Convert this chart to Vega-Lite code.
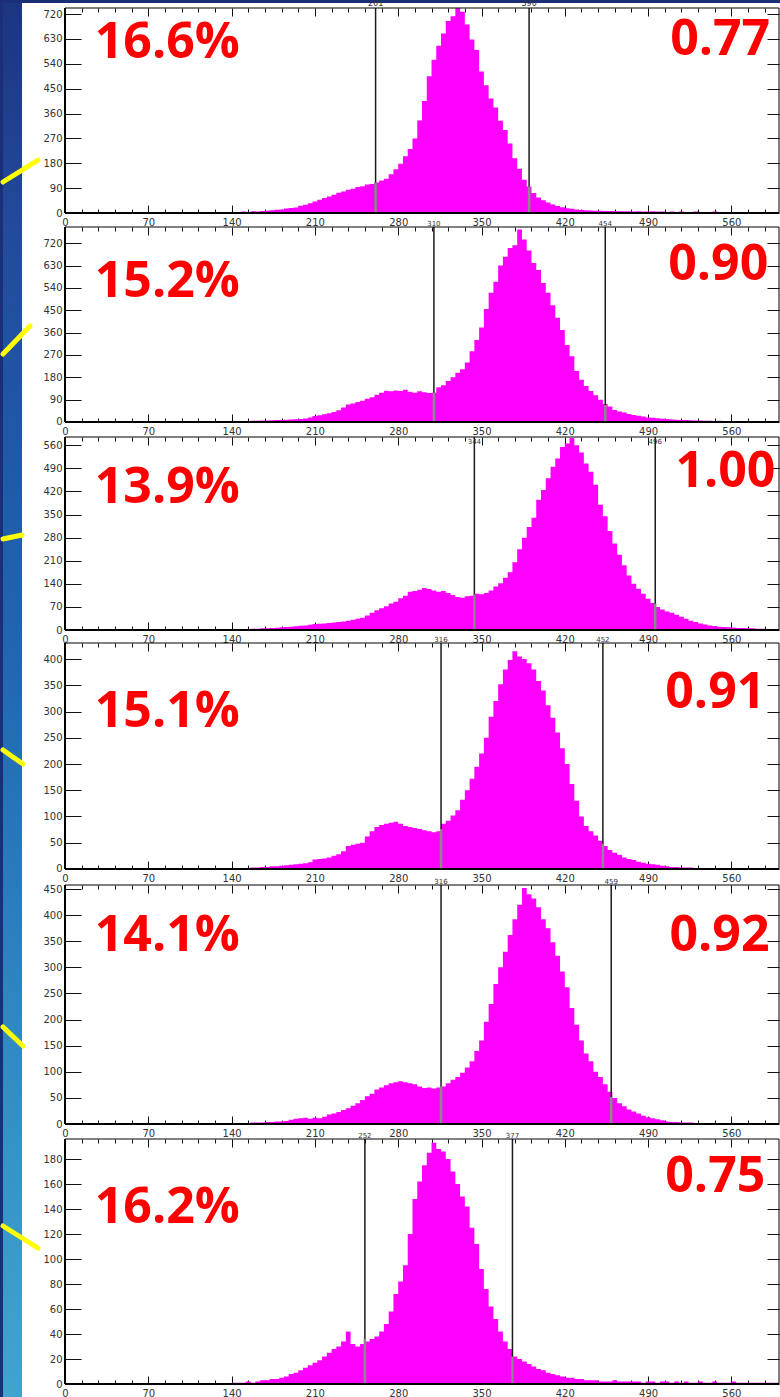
{
"$schema": "https://vega.github.io/schema/vega-lite/v6.json",
"padding": 0,
"background": "#1a2f78",
"spacing": 0,
"bounds": "flush",
"config": {
  "view": {"stroke": null, "fill": "#ffffff"},
  "axis": {"domain": false, "grid": false, "labelFont": "DejaVu Sans", "labelFontSize": 10, "labelColor": "#333333", "tickColor": "#111111", "tickWidth": 1, "labelOverlap": false, "labelFlush": false, "zindex": 1}
},
"datasets": {
"h1": [{"x":100,"c":1},{"x":104,"c":0},{"x":108,"c":1},{"x":112,"c":2},{"x":116,"c":1},{"x":120,"c":2},{"x":124,"c":2},{"x":128,"c":3},{"x":132,"c":2},{"x":136,"c":3},{"x":140,"c":4},{"x":144,"c":3},{"x":148,"c":5},{"x":152,"c":4},{"x":156,"c":6},{"x":160,"c":5},{"x":164,"c":7},{"x":168,"c":8},{"x":172,"c":10},{"x":176,"c":12},{"x":180,"c":13},{"x":184,"c":16},{"x":188,"c":18},{"x":192,"c":20},{"x":196,"c":26},{"x":200,"c":30},{"x":204,"c":35},{"x":208,"c":42},{"x":212,"c":48},{"x":216,"c":54},{"x":220,"c":60},{"x":224,"c":66},{"x":228,"c":73},{"x":232,"c":78},{"x":236,"c":84},{"x":240,"c":88},{"x":244,"c":94},{"x":248,"c":97},{"x":252,"c":103},{"x":256,"c":105},{"x":260,"c":110},{"x":264,"c":118},{"x":268,"c":124},{"x":272,"c":140},{"x":276,"c":158},{"x":280,"c":178},{"x":284,"c":205},{"x":288,"c":232},{"x":292,"c":270},{"x":296,"c":335},{"x":300,"c":405},{"x":304,"c":495},{"x":308,"c":555},{"x":312,"c":605},{"x":316,"c":650},{"x":320,"c":695},{"x":324,"c":712},{"x":328,"c":742},{"x":332,"c":728},{"x":336,"c":682},{"x":340,"c":628},{"x":344,"c":590},{"x":348,"c":512},{"x":352,"c":462},{"x":356,"c":414},{"x":360,"c":382},{"x":364,"c":334},{"x":368,"c":300},{"x":372,"c":252},{"x":376,"c":198},{"x":380,"c":160},{"x":384,"c":120},{"x":388,"c":96},{"x":392,"c":72},{"x":396,"c":56},{"x":400,"c":46},{"x":404,"c":38},{"x":408,"c":31},{"x":412,"c":25},{"x":416,"c":21},{"x":420,"c":17},{"x":424,"c":15},{"x":428,"c":13},{"x":432,"c":11},{"x":436,"c":10},{"x":440,"c":9},{"x":444,"c":8},{"x":448,"c":8},{"x":452,"c":7},{"x":456,"c":7},{"x":460,"c":7},{"x":464,"c":6},{"x":468,"c":6},{"x":472,"c":6},{"x":476,"c":5},{"x":480,"c":6},{"x":484,"c":5},{"x":488,"c":5},{"x":492,"c":6},{"x":496,"c":5},{"x":500,"c":5},{"x":504,"c":4},{"x":508,"c":5},{"x":512,"c":4},{"x":516,"c":5},{"x":520,"c":4},{"x":524,"c":4},{"x":528,"c":5},{"x":532,"c":4},{"x":536,"c":4},{"x":540,"c":4},{"x":544,"c":5},{"x":548,"c":4},{"x":552,"c":3},{"x":556,"c":4},{"x":560,"c":3},{"x":564,"c":4},{"x":568,"c":3},{"x":572,"c":3},{"x":576,"c":4},{"x":580,"c":3},{"x":584,"c":3},{"x":588,"c":3},{"x":592,"c":2},{"x":596,"c":2},{"x":600,"c":0}],
"h2": [{"x":100,"c":1},{"x":104,"c":1},{"x":108,"c":2},{"x":112,"c":1},{"x":116,"c":2},{"x":120,"c":2},{"x":124,"c":3},{"x":128,"c":2},{"x":132,"c":3},{"x":136,"c":3},{"x":140,"c":4},{"x":144,"c":3},{"x":148,"c":4},{"x":152,"c":4},{"x":156,"c":5},{"x":160,"c":5},{"x":164,"c":6},{"x":168,"c":6},{"x":172,"c":7},{"x":176,"c":8},{"x":180,"c":8},{"x":184,"c":9},{"x":188,"c":10},{"x":192,"c":11},{"x":196,"c":12},{"x":200,"c":14},{"x":204,"c":18},{"x":208,"c":24},{"x":212,"c":27},{"x":216,"c":31},{"x":220,"c":35},{"x":224,"c":40},{"x":228,"c":47},{"x":232,"c":58},{"x":236,"c":70},{"x":240,"c":74},{"x":244,"c":80},{"x":248,"c":86},{"x":252,"c":94},{"x":256,"c":100},{"x":260,"c":110},{"x":264,"c":118},{"x":268,"c":126},{"x":272,"c":124},{"x":276,"c":127},{"x":280,"c":125},{"x":284,"c":130},{"x":288,"c":122},{"x":292,"c":118},{"x":296,"c":124},{"x":300,"c":120},{"x":304,"c":117},{"x":308,"c":118},{"x":312,"c":140},{"x":316,"c":148},{"x":320,"c":165},{"x":324,"c":180},{"x":328,"c":198},{"x":332,"c":212},{"x":336,"c":240},{"x":340,"c":285},{"x":344,"c":330},{"x":348,"c":380},{"x":352,"c":455},{"x":356,"c":520},{"x":360,"c":565},{"x":364,"c":630},{"x":368,"c":665},{"x":372,"c":700},{"x":376,"c":712},{"x":380,"c":775},{"x":384,"c":735},{"x":388,"c":690},{"x":392,"c":640},{"x":396,"c":612},{"x":400,"c":560},{"x":404,"c":520},{"x":408,"c":470},{"x":412,"c":420},{"x":416,"c":370},{"x":420,"c":310},{"x":424,"c":265},{"x":428,"c":205},{"x":432,"c":170},{"x":436,"c":145},{"x":440,"c":125},{"x":444,"c":108},{"x":448,"c":90},{"x":452,"c":72},{"x":456,"c":62},{"x":460,"c":48},{"x":464,"c":42},{"x":468,"c":38},{"x":472,"c":32},{"x":476,"c":28},{"x":480,"c":25},{"x":484,"c":22},{"x":488,"c":18},{"x":492,"c":17},{"x":496,"c":15},{"x":500,"c":13},{"x":504,"c":12},{"x":508,"c":10},{"x":512,"c":9},{"x":516,"c":8},{"x":520,"c":8},{"x":524,"c":7},{"x":528,"c":6},{"x":532,"c":6},{"x":536,"c":5},{"x":540,"c":5},{"x":544,"c":4},{"x":548,"c":5},{"x":552,"c":4},{"x":556,"c":4},{"x":560,"c":4},{"x":564,"c":3},{"x":568,"c":4},{"x":572,"c":3},{"x":576,"c":3},{"x":580,"c":3},{"x":584,"c":3},{"x":588,"c":2},{"x":592,"c":3},{"x":596,"c":2},{"x":600,"c":0}],
"h3": [{"x":100,"c":1},{"x":104,"c":0},{"x":108,"c":1},{"x":112,"c":1},{"x":116,"c":1},{"x":120,"c":2},{"x":124,"c":1},{"x":128,"c":2},{"x":132,"c":2},{"x":136,"c":2},{"x":140,"c":2},{"x":144,"c":3},{"x":148,"c":3},{"x":152,"c":3},{"x":156,"c":4},{"x":160,"c":4},{"x":164,"c":5},{"x":168,"c":5},{"x":172,"c":6},{"x":176,"c":7},{"x":180,"c":8},{"x":184,"c":9},{"x":188,"c":10},{"x":192,"c":11},{"x":196,"c":13},{"x":200,"c":14},{"x":204,"c":16},{"x":208,"c":18},{"x":212,"c":19},{"x":216,"c":20},{"x":220,"c":21},{"x":224,"c":23},{"x":228,"c":24},{"x":232,"c":26},{"x":236,"c":28},{"x":240,"c":31},{"x":244,"c":34},{"x":248,"c":37},{"x":252,"c":44},{"x":256,"c":52},{"x":260,"c":60},{"x":264,"c":66},{"x":268,"c":72},{"x":272,"c":80},{"x":276,"c":86},{"x":280,"c":96},{"x":284,"c":104},{"x":288,"c":116},{"x":292,"c":118},{"x":296,"c":122},{"x":300,"c":127},{"x":304,"c":124},{"x":308,"c":120},{"x":312,"c":116},{"x":316,"c":118},{"x":320,"c":112},{"x":324,"c":106},{"x":328,"c":100},{"x":332,"c":98},{"x":336,"c":102},{"x":340,"c":104},{"x":344,"c":110},{"x":348,"c":108},{"x":352,"c":112},{"x":356,"c":120},{"x":360,"c":132},{"x":364,"c":142},{"x":368,"c":158},{"x":372,"c":175},{"x":376,"c":205},{"x":380,"c":245},{"x":384,"c":280},{"x":388,"c":312},{"x":392,"c":340},{"x":396,"c":395},{"x":400,"c":424},{"x":404,"c":460},{"x":408,"c":495},{"x":412,"c":520},{"x":416,"c":555},{"x":420,"c":565},{"x":424,"c":582},{"x":428,"c":560},{"x":432,"c":538},{"x":436,"c":505},{"x":440,"c":480},{"x":444,"c":440},{"x":448,"c":380},{"x":452,"c":345},{"x":456,"c":300},{"x":460,"c":262},{"x":464,"c":228},{"x":468,"c":196},{"x":472,"c":165},{"x":476,"c":140},{"x":480,"c":125},{"x":484,"c":110},{"x":488,"c":95},{"x":492,"c":82},{"x":496,"c":70},{"x":500,"c":62},{"x":504,"c":56},{"x":508,"c":52},{"x":512,"c":46},{"x":516,"c":40},{"x":520,"c":34},{"x":524,"c":28},{"x":528,"c":24},{"x":532,"c":20},{"x":536,"c":17},{"x":540,"c":14},{"x":544,"c":12},{"x":548,"c":10},{"x":552,"c":9},{"x":556,"c":8},{"x":560,"c":7},{"x":564,"c":6},{"x":568,"c":6},{"x":572,"c":5},{"x":576,"c":5},{"x":580,"c":4},{"x":584,"c":4},{"x":588,"c":3},{"x":592,"c":3},{"x":596,"c":3},{"x":600,"c":0}],
"h4": [{"x":100,"c":0},{"x":104,"c":1},{"x":108,"c":0},{"x":112,"c":1},{"x":116,"c":1},{"x":120,"c":1},{"x":124,"c":1},{"x":128,"c":2},{"x":132,"c":1},{"x":136,"c":2},{"x":140,"c":2},{"x":144,"c":2},{"x":148,"c":2},{"x":152,"c":2},{"x":156,"c":3},{"x":160,"c":3},{"x":164,"c":4},{"x":168,"c":4},{"x":172,"c":5},{"x":176,"c":5},{"x":180,"c":6},{"x":184,"c":7},{"x":188,"c":8},{"x":192,"c":9},{"x":196,"c":10},{"x":200,"c":11},{"x":204,"c":13},{"x":208,"c":18},{"x":212,"c":19},{"x":216,"c":20},{"x":220,"c":22},{"x":224,"c":25},{"x":228,"c":28},{"x":232,"c":34},{"x":236,"c":44},{"x":240,"c":46},{"x":244,"c":48},{"x":248,"c":50},{"x":252,"c":62},{"x":256,"c":72},{"x":260,"c":80},{"x":264,"c":84},{"x":268,"c":86},{"x":272,"c":88},{"x":276,"c":90},{"x":280,"c":86},{"x":284,"c":82},{"x":288,"c":80},{"x":292,"c":78},{"x":296,"c":76},{"x":300,"c":74},{"x":304,"c":72},{"x":308,"c":70},{"x":312,"c":72},{"x":316,"c":86},{"x":320,"c":92},{"x":324,"c":102},{"x":328,"c":112},{"x":332,"c":132},{"x":336,"c":150},{"x":340,"c":172},{"x":344,"c":195},{"x":348,"c":220},{"x":352,"c":250},{"x":356,"c":290},{"x":360,"c":320},{"x":364,"c":352},{"x":368,"c":380},{"x":372,"c":398},{"x":376,"c":415},{"x":380,"c":405},{"x":384,"c":400},{"x":388,"c":392},{"x":392,"c":380},{"x":396,"c":358},{"x":400,"c":340},{"x":404,"c":312},{"x":408,"c":288},{"x":412,"c":260},{"x":416,"c":230},{"x":420,"c":200},{"x":424,"c":162},{"x":428,"c":130},{"x":432,"c":100},{"x":436,"c":82},{"x":440,"c":72},{"x":444,"c":64},{"x":448,"c":54},{"x":452,"c":44},{"x":456,"c":36},{"x":460,"c":31},{"x":464,"c":27},{"x":468,"c":22},{"x":472,"c":19},{"x":476,"c":17},{"x":480,"c":14},{"x":484,"c":12},{"x":488,"c":10},{"x":492,"c":9},{"x":496,"c":8},{"x":500,"c":6},{"x":504,"c":5},{"x":508,"c":4},{"x":512,"c":4},{"x":516,"c":3},{"x":520,"c":3},{"x":524,"c":3},{"x":528,"c":2},{"x":532,"c":2},{"x":536,"c":2},{"x":540,"c":2},{"x":544,"c":2},{"x":548,"c":1},{"x":552,"c":2},{"x":556,"c":1},{"x":560,"c":1},{"x":564,"c":1},{"x":568,"c":1},{"x":572,"c":1},{"x":576,"c":1},{"x":580,"c":1},{"x":584,"c":1},{"x":588,"c":1},{"x":592,"c":1},{"x":596,"c":1},{"x":600,"c":0}],
"h5": [{"x":100,"c":0},{"x":104,"c":1},{"x":108,"c":1},{"x":112,"c":0},{"x":116,"c":1},{"x":120,"c":1},{"x":124,"c":1},{"x":128,"c":1},{"x":132,"c":2},{"x":136,"c":1},{"x":140,"c":2},{"x":144,"c":2},{"x":148,"c":2},{"x":152,"c":2},{"x":156,"c":3},{"x":160,"c":3},{"x":164,"c":3},{"x":168,"c":4},{"x":172,"c":4},{"x":176,"c":5},{"x":180,"c":5},{"x":184,"c":6},{"x":188,"c":8},{"x":192,"c":10},{"x":196,"c":11},{"x":200,"c":12},{"x":204,"c":10},{"x":208,"c":12},{"x":212,"c":11},{"x":216,"c":14},{"x":220,"c":18},{"x":224,"c":20},{"x":228,"c":23},{"x":232,"c":27},{"x":236,"c":30},{"x":240,"c":35},{"x":244,"c":40},{"x":248,"c":46},{"x":252,"c":53},{"x":256,"c":58},{"x":260,"c":66},{"x":264,"c":70},{"x":268,"c":74},{"x":272,"c":78},{"x":276,"c":80},{"x":280,"c":82},{"x":284,"c":80},{"x":288,"c":78},{"x":292,"c":76},{"x":296,"c":72},{"x":300,"c":69},{"x":304,"c":70},{"x":308,"c":68},{"x":312,"c":70},{"x":316,"c":72},{"x":320,"c":78},{"x":324,"c":85},{"x":328,"c":90},{"x":332,"c":98},{"x":336,"c":108},{"x":340,"c":120},{"x":344,"c":140},{"x":348,"c":160},{"x":352,"c":196},{"x":356,"c":230},{"x":360,"c":268},{"x":364,"c":300},{"x":368,"c":330},{"x":372,"c":362},{"x":376,"c":392},{"x":380,"c":420},{"x":384,"c":452},{"x":388,"c":440},{"x":392,"c":432},{"x":396,"c":415},{"x":400,"c":392},{"x":404,"c":375},{"x":408,"c":348},{"x":412,"c":322},{"x":416,"c":292},{"x":420,"c":262},{"x":424,"c":222},{"x":428,"c":190},{"x":432,"c":160},{"x":436,"c":135},{"x":440,"c":120},{"x":444,"c":100},{"x":448,"c":90},{"x":452,"c":76},{"x":456,"c":62},{"x":460,"c":50},{"x":464,"c":40},{"x":468,"c":34},{"x":472,"c":28},{"x":476,"c":24},{"x":480,"c":20},{"x":484,"c":16},{"x":488,"c":13},{"x":492,"c":11},{"x":496,"c":9},{"x":500,"c":7},{"x":504,"c":5},{"x":508,"c":4},{"x":512,"c":4},{"x":516,"c":3},{"x":520,"c":3},{"x":524,"c":3},{"x":528,"c":2},{"x":532,"c":2},{"x":536,"c":2},{"x":540,"c":2},{"x":544,"c":2},{"x":548,"c":1},{"x":552,"c":2},{"x":556,"c":1},{"x":560,"c":1},{"x":564,"c":1},{"x":568,"c":1},{"x":572,"c":1},{"x":576,"c":1},{"x":580,"c":1},{"x":584,"c":1},{"x":588,"c":1},{"x":592,"c":0},{"x":596,"c":1},{"x":600,"c":0}],
"h6": [{"x":136,"c":0},{"x":140,"c":1},{"x":144,"c":1},{"x":148,"c":1},{"x":152,"c":2},{"x":156,"c":1},{"x":160,"c":2},{"x":164,"c":3},{"x":168,"c":3},{"x":172,"c":4},{"x":176,"c":4},{"x":180,"c":5},{"x":184,"c":6},{"x":188,"c":8},{"x":192,"c":9},{"x":196,"c":11},{"x":200,"c":13},{"x":204,"c":15},{"x":208,"c":17},{"x":212,"c":19},{"x":216,"c":22},{"x":220,"c":25},{"x":224,"c":28},{"x":228,"c":30},{"x":232,"c":34},{"x":236,"c":42},{"x":240,"c":32},{"x":244,"c":30},{"x":248,"c":32},{"x":252,"c":34},{"x":256,"c":36},{"x":260,"c":38},{"x":264,"c":42},{"x":268,"c":48},{"x":272,"c":58},{"x":276,"c":72},{"x":280,"c":82},{"x":284,"c":95},{"x":288,"c":120},{"x":292,"c":148},{"x":296,"c":162},{"x":300,"c":175},{"x":304,"c":185},{"x":308,"c":193},{"x":312,"c":188},{"x":316,"c":186},{"x":320,"c":180},{"x":324,"c":170},{"x":328,"c":160},{"x":332,"c":150},{"x":336,"c":142},{"x":340,"c":125},{"x":344,"c":112},{"x":348,"c":92},{"x":352,"c":76},{"x":356,"c":62},{"x":360,"c":52},{"x":364,"c":42},{"x":368,"c":34},{"x":372,"c":28},{"x":376,"c":22},{"x":380,"c":20},{"x":384,"c":18},{"x":388,"c":16},{"x":392,"c":14},{"x":396,"c":12},{"x":400,"c":11},{"x":404,"c":9},{"x":408,"c":8},{"x":412,"c":7},{"x":416,"c":6},{"x":420,"c":5},{"x":424,"c":5},{"x":428,"c":4},{"x":432,"c":4},{"x":436,"c":3},{"x":440,"c":3},{"x":444,"c":3},{"x":448,"c":2},{"x":452,"c":2},{"x":456,"c":2},{"x":460,"c":3},{"x":464,"c":2},{"x":468,"c":2},{"x":472,"c":2},{"x":476,"c":2},{"x":480,"c":2},{"x":484,"c":1},{"x":488,"c":2},{"x":492,"c":2},{"x":496,"c":1},{"x":500,"c":2},{"x":504,"c":2},{"x":508,"c":1},{"x":512,"c":2},{"x":516,"c":1},{"x":520,"c":2},{"x":524,"c":1},{"x":528,"c":1},{"x":532,"c":2},{"x":536,"c":1},{"x":540,"c":1},{"x":544,"c":2},{"x":548,"c":1},{"x":552,"c":1},{"x":556,"c":1},{"x":560,"c":2},{"x":564,"c":1},{"x":568,"c":1},{"x":572,"c":1},{"x":576,"c":1},{"x":580,"c":1},{"x":584,"c":1},{"x":588,"c":1},{"x":592,"c":1},{"x":596,"c":1},{"x":600,"c":0}],
"c1": [{"x":261,"h":110,"lab":"261"},{"x":390,"h":96,"lab":"390"}],
"c2": [{"x":310,"h":118,"lab":"310"},{"x":454,"h":68,"lab":"454"}],
"c3": [{"x":344,"h":108,"lab":"344"},{"x":496,"h":80,"lab":"496"}],
"c4": [{"x":316,"h":76,"lab":"316"},{"x":452,"h":48,"lab":"452"}],
"c5": [{"x":316,"h":72,"lab":"316"},{"x":459,"h":52,"lab":"459"}],
"c6": [{"x":252,"h":36,"lab":"252"},{"x":376,"h":22,"lab":"377"}]
},
"vconcat": [
{
"width": 780, "height": 227,
"layer": [
{"data": {"values": [{}]}, "mark": {"type": "rect", "color": "#1a2f78"}, "encoding": {"x": {"datum": -52.1, "type": "quantitative", "axis": null}, "x2": {"datum": 603.36}, "y": {"datum": 760.1, "type": "quantitative", "axis": null}, "y2": {"datum": 770.96}}},
{"data": {"values": [{}]}, "mark": {"type": "rect", "color": {"gradient": "linear", "x1": 0, "y1": 0, "x2": 0, "y2": 1, "stops": [{"offset": 0, "color": "#1b3580"}, {"offset": 1, "color": "#234a9b"}]}}, "encoding": {"x": {"datum": -52.1, "type": "quantitative", "axis": null}, "x2": {"datum": -36.13}, "y": {"datum": -50.67, "type": "quantitative", "axis": null}, "y2": {"datum": 760.1}}},
{"data": {"name": "h1"}, "mark": {"type": "area", "interpolate": "step-after", "color": "#ff00ff"},
 "encoding": {
  "x": {"field": "x", "type": "quantitative", "scale": {"domain": [-52.1, 603.36], "nice": false, "zero": false},
        "axis": {"orient": "bottom", "offset": -14, "title": null, "values": [0,14,28,42,56,70,84,98,112,126,140,154,168,182,196,210,224,238,252,266,280,294,308,322,336,350,364,378,392,406,420,434,448,462,476,490,504,518,532,546,560,574,588], "format": "d", "labelExpr": "datum.value % 70 === 0 && datum.value <= 560 ? datum.label : ''", "tickSize": {"condition": {"test": "datum.value % 70 === 0", "value": -8}, "value": -4}, "labelPadding": 12, "labelBaseline": "top"}},
  "y": {"field": "c", "type": "quantitative", "scale": {"domain": [-50.67, 770.96], "nice": false, "zero": false},
        "axis": {"orient": "left", "offset": -62, "title": null, "values": [0,90,180,270,360,450,540,630,720], "format": "d", "tickSize": -16, "labelPadding": 19}}
 }},
{"data": {"name": "c1"}, "mark": {"type": "rule", "color": "#1a1a1a", "strokeWidth": 1.5}, "encoding": {"x": {"field": "x", "type": "quantitative", "axis": null}, "y": {"datum": 0, "type": "quantitative", "axis": null}, "y2": {"datum": 742}}},
{"data": {"name": "c1"}, "mark": {"type": "rule", "color": "#8a8a8a", "strokeWidth": 2.5},
 "encoding": {
  "x": {"field": "x", "type": "quantitative", "axis": {"orient": "top", "offset": -8, "title": null, "labels": false, "values": [0,14,28,42,56,70,84,98,112,126,140,154,168,182,196,210,224,238,252,266,280,294,308,322,336,350,364,378,392,406,420,434,448,462,476,490,504,518,532,546,560,574,588], "tickSize": {"condition": {"test": "datum.value % 70 === 0", "value": -8}, "value": -4}}},
  "y": {"field": "h", "type": "quantitative", "axis": {"orient": "right", "offset": -4, "title": null, "labels": false, "values": [0,90,180,270,360,450,540,630,720], "tickSize": -12}},
  "y2": {"datum": 0}
 }},
{"data": {"name": "c1"}, "mark": {"type": "text", "fontSize": 8, "baseline": "bottom", "font": "DejaVu Sans", "color": "#333333"}, "encoding": {"x": {"field": "x", "type": "quantitative", "axis": null}, "y": {"datum": 742, "type": "quantitative", "axis": null}, "text": {"field": "lab", "type": "nominal"}}},
{"data": {"values": [{}]}, "mark": {"type": "rule", "color": "#000000", "strokeWidth": 2}, "encoding": {"x": {"datum": 0, "type": "quantitative", "axis": null}, "y": {"datum": 0, "type": "quantitative", "axis": null}, "y2": {"datum": 742}}},
{"data": {"values": [{}]}, "mark": {"type": "rule", "color": "#000000", "strokeWidth": 1}, "encoding": {"x": {"datum": 600, "type": "quantitative", "axis": null}, "y": {"datum": 0, "type": "quantitative", "axis": null}, "y2": {"datum": 742}}},
{"data": {"values": [{}]}, "mark": {"type": "rule", "color": "#000000", "strokeWidth": 1}, "encoding": {"x": {"datum": 0, "type": "quantitative", "axis": null}, "x2": {"datum": 600}, "y": {"datum": 742, "type": "quantitative", "axis": null}}},
{"data": {"values": [{}]}, "mark": {"type": "rule", "color": "#000000", "strokeWidth": 2}, "encoding": {"x": {"datum": 0, "type": "quantitative", "axis": null}, "x2": {"datum": 600}, "y": {"datum": 0, "type": "quantitative", "axis": null}}},
{"data": {"values": [{}]}, "mark": {"type": "text", "text": "16.6%", "align": "left", "baseline": "alphabetic", "font": "Open Sans", "fontWeight": "bold", "fontSize": 50, "color": "#ff0000"}, "encoding": {"x": {"datum": 25, "type": "quantitative", "axis": null}, "y": {"datum": 561, "type": "quantitative", "axis": null}}},
{"data": {"values": [{}]}, "mark": {"type": "text", "text": "0.77", "align": "right", "baseline": "alphabetic", "font": "Open Sans", "fontWeight": "bold", "fontSize": 50, "color": "#ff0000"}, "encoding": {"x": {"datum": 592.6, "type": "quantitative", "axis": null}, "y": {"datum": 572, "type": "quantitative", "axis": null}}},
{"data": {"values": [{}]}, "mark": {"type": "rule", "color": "#ffff00", "strokeWidth": 5, "strokeCap": "round"}, "encoding": {"x": {"datum": -52.1, "type": "quantitative", "axis": null}, "x2": {"datum": -22.7}, "y": {"datum": 112.2, "type": "quantitative", "axis": null}, "y2": {"datum": 191.8}}}
]
},
{
"width": 780, "height": 210,
"layer": [
{"data": {"values": [{}]}, "mark": {"type": "rect", "color": {"gradient": "linear", "x1": 0, "y1": 0, "x2": 0, "y2": 1, "stops": [{"offset": 0, "color": "#234a9b"}, {"offset": 1, "color": "#1f58a6"}]}}, "encoding": {"x": {"datum": -52.1, "type": "quantitative", "axis": null}, "x2": {"datum": -36.13}, "y": {"datum": -60.4, "type": "quantitative", "axis": null}, "y2": {"datum": 785}}},
{"data": {"name": "h2"}, "mark": {"type": "area", "interpolate": "step-after", "color": "#ff00ff"},
 "encoding": {
  "x": {"field": "x", "type": "quantitative", "scale": {"domain": [-52.1, 603.36], "nice": false, "zero": false},
        "axis": {"orient": "bottom", "offset": -15, "title": null, "values": [0,14,28,42,56,70,84,98,112,126,140,154,168,182,196,210,224,238,252,266,280,294,308,322,336,350,364,378,392,406,420,434,448,462,476,490,504,518,532,546,560,574,588], "format": "d", "labelExpr": "datum.value % 70 === 0 && datum.value <= 560 ? datum.label : ''", "tickSize": {"condition": {"test": "datum.value % 70 === 0", "value": -8}, "value": -4}, "labelPadding": 12, "labelBaseline": "top"}},
  "y": {"field": "c", "type": "quantitative", "scale": {"domain": [-60.4, 785], "nice": false, "zero": false},
        "axis": {"orient": "left", "offset": -62, "title": null, "values": [0,90,180,270,360,450,540,630,720], "format": "d", "tickSize": -16, "labelPadding": 19}}
 }},
{"data": {"name": "c2"}, "mark": {"type": "rule", "color": "#1a1a1a", "strokeWidth": 1.5}, "encoding": {"x": {"field": "x", "type": "quantitative", "axis": null}, "y": {"datum": 0, "type": "quantitative", "axis": null}, "y2": {"datum": 785}}},
{"data": {"name": "c2"}, "mark": {"type": "rule", "color": "#8a8a8a", "strokeWidth": 2.5},
 "encoding": {
  "x": {"field": "x", "type": "quantitative", "axis": {"orient": "top", "offset": 0, "title": null, "labels": false, "values": [0,14,28,42,56,70,84,98,112,126,140,154,168,182,196,210,224,238,252,266,280,294,308,322,336,350,364,378,392,406,420,434,448,462,476,490,504,518,532,546,560,574,588], "tickSize": {"condition": {"test": "datum.value % 70 === 0", "value": -8}, "value": -4}}},
  "y": {"field": "h", "type": "quantitative", "axis": {"orient": "right", "offset": -4, "title": null, "labels": false, "values": [0,90,180,270,360,450,540,630,720], "tickSize": -12}},
  "y2": {"datum": 0}
 }},
{"data": {"name": "c2"}, "mark": {"type": "text", "fontSize": 7, "baseline": "bottom", "font": "DejaVu Sans", "color": "#333333"}, "encoding": {"x": {"field": "x", "type": "quantitative", "axis": null}, "y": {"datum": 785, "type": "quantitative", "axis": null}, "text": {"field": "lab", "type": "nominal"}}},
{"data": {"values": [{}]}, "mark": {"type": "rule", "color": "#000000", "strokeWidth": 2}, "encoding": {"x": {"datum": 0, "type": "quantitative", "axis": null}, "y": {"datum": 0, "type": "quantitative", "axis": null}, "y2": {"datum": 785}}},
{"data": {"values": [{}]}, "mark": {"type": "rule", "color": "#000000", "strokeWidth": 1}, "encoding": {"x": {"datum": 600, "type": "quantitative", "axis": null}, "y": {"datum": 0, "type": "quantitative", "axis": null}, "y2": {"datum": 785}}},
{"data": {"values": [{}]}, "mark": {"type": "rule", "color": "#000000", "strokeWidth": 1}, "encoding": {"x": {"datum": 0, "type": "quantitative", "axis": null}, "x2": {"datum": 600}, "y": {"datum": 785, "type": "quantitative", "axis": null}}},
{"data": {"values": [{}]}, "mark": {"type": "rule", "color": "#000000", "strokeWidth": 2}, "encoding": {"x": {"datum": 0, "type": "quantitative", "axis": null}, "x2": {"datum": 600}, "y": {"datum": 0, "type": "quantitative", "axis": null}}},
{"data": {"values": [{}]}, "mark": {"type": "text", "text": "15.2%", "align": "left", "baseline": "alphabetic", "font": "Open Sans", "fontWeight": "bold", "fontSize": 50, "color": "#ff0000"}, "encoding": {"x": {"datum": 25, "type": "quantitative", "axis": null}, "y": {"datum": 503, "type": "quantitative", "axis": null}}},
{"data": {"values": [{}]}, "mark": {"type": "text", "text": "0.90", "align": "right", "baseline": "alphabetic", "font": "Open Sans", "fontWeight": "bold", "fontSize": 50, "color": "#ff0000"}, "encoding": {"x": {"datum": 591, "type": "quantitative", "axis": null}, "y": {"datum": 572, "type": "quantitative", "axis": null}}},
{"data": {"values": [{}]}, "mark": {"type": "rule", "color": "#ffff00", "strokeWidth": 5, "strokeCap": "round"}, "encoding": {"x": {"datum": -52.1, "type": "quantitative", "axis": null}, "x2": {"datum": -29.4}, "y": {"datum": 273.7, "type": "quantitative", "axis": null}, "y2": {"datum": 386.5}}}
]
},
{
"width": 780, "height": 206,
"layer": [
{"data": {"values": [{}]}, "mark": {"type": "rect", "color": {"gradient": "linear", "x1": 0, "y1": 0, "x2": 0, "y2": 1, "stops": [{"offset": 0, "color": "#1f58a6"}, {"offset": 1, "color": "#2165af"}]}}, "encoding": {"x": {"datum": -52.1, "type": "quantitative", "axis": null}, "x2": {"datum": -36.13}, "y": {"datum": -39.4, "type": "quantitative", "axis": null}, "y2": {"datum": 585}}},
{"data": {"name": "h3"}, "mark": {"type": "area", "interpolate": "step-after", "color": "#ff00ff"},
 "encoding": {
  "x": {"field": "x", "type": "quantitative", "scale": {"domain": [-52.1, 603.36], "nice": false, "zero": false},
        "axis": {"orient": "bottom", "offset": -13, "title": null, "values": [0,14,28,42,56,70,84,98,112,126,140,154,168,182,196,210,224,238,252,266,280,294,308,322,336,350,364,378,392,406,420,434,448,462,476,490,504,518,532,546,560,574,588], "format": "d", "labelExpr": "datum.value % 70 === 0 && datum.value <= 560 ? datum.label : ''", "tickSize": {"condition": {"test": "datum.value % 70 === 0", "value": -8}, "value": -4}, "labelPadding": 12, "labelBaseline": "top"}},
  "y": {"field": "c", "type": "quantitative", "scale": {"domain": [-39.4, 585], "nice": false, "zero": false},
        "axis": {"orient": "left", "offset": -62, "title": null, "values": [0,70,140,210,280,350,420,490,560], "format": "d", "tickSize": -16, "labelPadding": 19}}
 }},
{"data": {"name": "c3"}, "mark": {"type": "rule", "color": "#1a1a1a", "strokeWidth": 1.5}, "encoding": {"x": {"field": "x", "type": "quantitative", "axis": null}, "y": {"datum": 0, "type": "quantitative", "axis": null}, "y2": {"datum": 585}}},
{"data": {"name": "c3"}, "mark": {"type": "rule", "color": "#8a8a8a", "strokeWidth": 2.5},
 "encoding": {
  "x": {"field": "x", "type": "quantitative", "axis": {"orient": "top", "offset": 0, "title": null, "labels": false, "values": [0,14,28,42,56,70,84,98,112,126,140,154,168,182,196,210,224,238,252,266,280,294,308,322,336,350,364,378,392,406,420,434,448,462,476,490,504,518,532,546,560,574,588], "tickSize": {"condition": {"test": "datum.value % 70 === 0", "value": -8}, "value": -4}}},
  "y": {"field": "h", "type": "quantitative", "axis": {"orient": "right", "offset": -4, "title": null, "labels": false, "values": [0,70,140,210,280,350,420,490,560], "tickSize": -12}},
  "y2": {"datum": 0}
 }},
{"data": {"name": "c3"}, "mark": {"type": "text", "fontSize": 7, "baseline": "top", "dy": 1, "font": "DejaVu Sans", "color": "#333333"}, "encoding": {"x": {"field": "x", "type": "quantitative", "axis": null}, "y": {"datum": 585, "type": "quantitative", "axis": null}, "text": {"field": "lab", "type": "nominal"}}},
{"data": {"values": [{}]}, "mark": {"type": "rule", "color": "#000000", "strokeWidth": 2}, "encoding": {"x": {"datum": 0, "type": "quantitative", "axis": null}, "y": {"datum": 0, "type": "quantitative", "axis": null}, "y2": {"datum": 585}}},
{"data": {"values": [{}]}, "mark": {"type": "rule", "color": "#000000", "strokeWidth": 1}, "encoding": {"x": {"datum": 600, "type": "quantitative", "axis": null}, "y": {"datum": 0, "type": "quantitative", "axis": null}, "y2": {"datum": 585}}},
{"data": {"values": [{}]}, "mark": {"type": "rule", "color": "#000000", "strokeWidth": 1}, "encoding": {"x": {"datum": 0, "type": "quantitative", "axis": null}, "x2": {"datum": 600}, "y": {"datum": 585, "type": "quantitative", "axis": null}}},
{"data": {"values": [{}]}, "mark": {"type": "rule", "color": "#000000", "strokeWidth": 2}, "encoding": {"x": {"datum": 0, "type": "quantitative", "axis": null}, "x2": {"datum": 600}, "y": {"datum": 0, "type": "quantitative", "axis": null}}},
{"data": {"values": [{}]}, "mark": {"type": "text", "text": "13.9%", "align": "left", "baseline": "alphabetic", "font": "Open Sans", "fontWeight": "bold", "fontSize": 50, "color": "#ff0000"}, "encoding": {"x": {"datum": 25, "type": "quantitative", "axis": null}, "y": {"datum": 385, "type": "quantitative", "axis": null}}},
{"data": {"values": [{}]}, "mark": {"type": "text", "text": "1.00", "align": "right", "baseline": "alphabetic", "font": "Open Sans", "fontWeight": "bold", "fontSize": 50, "color": "#ff0000"}, "encoding": {"x": {"datum": 597, "type": "quantitative", "axis": null}, "y": {"datum": 433, "type": "quantitative", "axis": null}}},
{"data": {"values": [{}]}, "mark": {"type": "rule", "color": "#ffff00", "strokeWidth": 5, "strokeCap": "round"}, "encoding": {"x": {"datum": -52.1, "type": "quantitative", "axis": null}, "x2": {"datum": -36.1}, "y": {"datum": 275.8, "type": "quantitative", "axis": null}, "y2": {"datum": 288}}}
]
},
{
"width": 780, "height": 242,
"layer": [
{"data": {"values": [{}]}, "mark": {"type": "rect", "color": {"gradient": "linear", "x1": 0, "y1": 0, "x2": 0, "y2": 1, "stops": [{"offset": 0, "color": "#2165af"}, {"offset": 1, "color": "#2a7bbc"}]}}, "encoding": {"x": {"datum": -52.1, "type": "quantitative", "axis": null}, "x2": {"datum": -36.13}, "y": {"datum": -30.5, "type": "quantitative", "axis": null}, "y2": {"datum": 430.5}}},
{"data": {"name": "h4"}, "mark": {"type": "area", "interpolate": "step-after", "color": "#ff00ff"},
 "encoding": {
  "x": {"field": "x", "type": "quantitative", "scale": {"domain": [-52.1, 603.36], "nice": false, "zero": false},
        "axis": {"orient": "bottom", "offset": -16, "title": null, "values": [0,14,28,42,56,70,84,98,112,126,140,154,168,182,196,210,224,238,252,266,280,294,308,322,336,350,364,378,392,406,420,434,448,462,476,490,504,518,532,546,560,574,588], "format": "d", "labelExpr": "datum.value % 70 === 0 && datum.value <= 560 ? datum.label : ''", "tickSize": {"condition": {"test": "datum.value % 70 === 0", "value": -8}, "value": -4}, "labelPadding": 12, "labelBaseline": "top"}},
  "y": {"field": "c", "type": "quantitative", "scale": {"domain": [-30.5, 430.5], "nice": false, "zero": false},
        "axis": {"orient": "left", "offset": -62, "title": null, "values": [0,50,100,150,200,250,300,350,400], "format": "d", "tickSize": -16, "labelPadding": 19}}
 }},
{"data": {"name": "c4"}, "mark": {"type": "rule", "color": "#1a1a1a", "strokeWidth": 1.5}, "encoding": {"x": {"field": "x", "type": "quantitative", "axis": null}, "y": {"datum": 0, "type": "quantitative", "axis": null}, "y2": {"datum": 430.5}}},
{"data": {"name": "c4"}, "mark": {"type": "rule", "color": "#8a8a8a", "strokeWidth": 2.5},
 "encoding": {
  "x": {"field": "x", "type": "quantitative", "axis": {"orient": "top", "offset": 0, "title": null, "labels": false, "values": [0,14,28,42,56,70,84,98,112,126,140,154,168,182,196,210,224,238,252,266,280,294,308,322,336,350,364,378,392,406,420,434,448,462,476,490,504,518,532,546,560,574,588], "tickSize": {"condition": {"test": "datum.value % 70 === 0", "value": -8}, "value": -4}}},
  "y": {"field": "h", "type": "quantitative", "axis": {"orient": "right", "offset": -4, "title": null, "labels": false, "values": [0,50,100,150,200,250,300,350,400], "tickSize": -12}},
  "y2": {"datum": 0}
 }},
{"data": {"name": "c4"}, "mark": {"type": "text", "fontSize": 7, "baseline": "bottom", "font": "DejaVu Sans", "color": "#333333"}, "encoding": {"x": {"field": "x", "type": "quantitative", "axis": null}, "y": {"datum": 430.5, "type": "quantitative", "axis": null}, "text": {"field": "lab", "type": "nominal"}}},
{"data": {"values": [{}]}, "mark": {"type": "rule", "color": "#000000", "strokeWidth": 2}, "encoding": {"x": {"datum": 0, "type": "quantitative", "axis": null}, "y": {"datum": 0, "type": "quantitative", "axis": null}, "y2": {"datum": 430.5}}},
{"data": {"values": [{}]}, "mark": {"type": "rule", "color": "#000000", "strokeWidth": 1}, "encoding": {"x": {"datum": 600, "type": "quantitative", "axis": null}, "y": {"datum": 0, "type": "quantitative", "axis": null}, "y2": {"datum": 430.5}}},
{"data": {"values": [{}]}, "mark": {"type": "rule", "color": "#000000", "strokeWidth": 1}, "encoding": {"x": {"datum": 0, "type": "quantitative", "axis": null}, "x2": {"datum": 600}, "y": {"datum": 430.5, "type": "quantitative", "axis": null}}},
{"data": {"values": [{}]}, "mark": {"type": "rule", "color": "#000000", "strokeWidth": 2}, "encoding": {"x": {"datum": 0, "type": "quantitative", "axis": null}, "x2": {"datum": 600}, "y": {"datum": 0, "type": "quantitative", "axis": null}}},
{"data": {"values": [{}]}, "mark": {"type": "text", "text": "15.1%", "align": "left", "baseline": "alphabetic", "font": "Open Sans", "fontWeight": "bold", "fontSize": 50, "color": "#ff0000"}, "encoding": {"x": {"datum": 25, "type": "quantitative", "axis": null}, "y": {"datum": 270, "type": "quantitative", "axis": null}}},
{"data": {"values": [{}]}, "mark": {"type": "text", "text": "0.91", "align": "right", "baseline": "alphabetic", "font": "Open Sans", "fontWeight": "bold", "fontSize": 50, "color": "#ff0000"}, "encoding": {"x": {"datum": 588.5, "type": "quantitative", "axis": null}, "y": {"datum": 307, "type": "quantitative", "axis": null}}},
{"data": {"values": [{}]}, "mark": {"type": "rule", "color": "#ffff00", "strokeWidth": 5, "strokeCap": "round"}, "encoding": {"x": {"datum": -52.1, "type": "quantitative", "axis": null}, "x2": {"datum": -35.3}, "y": {"datum": 226.7, "type": "quantitative", "axis": null}, "y2": {"datum": 200}}}
]
},
{
"width": 780, "height": 254,
"layer": [
{"data": {"values": [{}]}, "mark": {"type": "rect", "color": {"gradient": "linear", "x1": 0, "y1": 0, "x2": 0, "y2": 1, "stops": [{"offset": 0, "color": "#2a7bbc"}, {"offset": 1, "color": "#3592c5"}]}}, "encoding": {"x": {"datum": -52.1, "type": "quantitative", "axis": null}, "x2": {"datum": -36.13}, "y": {"datum": -28.7, "type": "quantitative", "axis": null}, "y2": {"datum": 457.7}}},
{"data": {"name": "h5"}, "mark": {"type": "area", "interpolate": "step-after", "color": "#ff00ff"},
 "encoding": {
  "x": {"field": "x", "type": "quantitative", "scale": {"domain": [-52.1, 603.36], "nice": false, "zero": false},
        "axis": {"orient": "bottom", "offset": -15, "title": null, "values": [0,14,28,42,56,70,84,98,112,126,140,154,168,182,196,210,224,238,252,266,280,294,308,322,336,350,364,378,392,406,420,434,448,462,476,490,504,518,532,546,560,574,588], "format": "d", "labelExpr": "datum.value % 70 === 0 && datum.value <= 560 ? datum.label : ''", "tickSize": {"condition": {"test": "datum.value % 70 === 0", "value": -8}, "value": -4}, "labelPadding": 12, "labelBaseline": "top"}},
  "y": {"field": "c", "type": "quantitative", "scale": {"domain": [-28.7, 457.7], "nice": false, "zero": false},
        "axis": {"orient": "left", "offset": -62, "title": null, "values": [0,50,100,150,200,250,300,350,400,450], "format": "d", "tickSize": -16, "labelPadding": 19}}
 }},
{"data": {"name": "c5"}, "mark": {"type": "rule", "color": "#1a1a1a", "strokeWidth": 1.5}, "encoding": {"x": {"field": "x", "type": "quantitative", "axis": null}, "y": {"datum": 0, "type": "quantitative", "axis": null}, "y2": {"datum": 457.7}}},
{"data": {"name": "c5"}, "mark": {"type": "rule", "color": "#8a8a8a", "strokeWidth": 2.5},
 "encoding": {
  "x": {"field": "x", "type": "quantitative", "axis": {"orient": "top", "offset": 0, "title": null, "labels": false, "values": [0,14,28,42,56,70,84,98,112,126,140,154,168,182,196,210,224,238,252,266,280,294,308,322,336,350,364,378,392,406,420,434,448,462,476,490,504,518,532,546,560,574,588], "tickSize": {"condition": {"test": "datum.value % 70 === 0", "value": -8}, "value": -4}}},
  "y": {"field": "h", "type": "quantitative", "axis": {"orient": "right", "offset": -4, "title": null, "labels": false, "values": [0,50,100,150,200,250,300,350,400,450], "tickSize": -12}},
  "y2": {"datum": 0}
 }},
{"data": {"name": "c5"}, "mark": {"type": "text", "fontSize": 7, "baseline": "bottom", "font": "DejaVu Sans", "color": "#333333"}, "encoding": {"x": {"field": "x", "type": "quantitative", "axis": null}, "y": {"datum": 457.7, "type": "quantitative", "axis": null}, "text": {"field": "lab", "type": "nominal"}}},
{"data": {"values": [{}]}, "mark": {"type": "rule", "color": "#000000", "strokeWidth": 2}, "encoding": {"x": {"datum": 0, "type": "quantitative", "axis": null}, "y": {"datum": 0, "type": "quantitative", "axis": null}, "y2": {"datum": 457.7}}},
{"data": {"values": [{}]}, "mark": {"type": "rule", "color": "#000000", "strokeWidth": 1}, "encoding": {"x": {"datum": 600, "type": "quantitative", "axis": null}, "y": {"datum": 0, "type": "quantitative", "axis": null}, "y2": {"datum": 457.7}}},
{"data": {"values": [{}]}, "mark": {"type": "rule", "color": "#000000", "strokeWidth": 1}, "encoding": {"x": {"datum": 0, "type": "quantitative", "axis": null}, "x2": {"datum": 600}, "y": {"datum": 457.7, "type": "quantitative", "axis": null}}},
{"data": {"values": [{}]}, "mark": {"type": "rule", "color": "#000000", "strokeWidth": 2}, "encoding": {"x": {"datum": 0, "type": "quantitative", "axis": null}, "x2": {"datum": 600}, "y": {"datum": 0, "type": "quantitative", "axis": null}}},
{"data": {"values": [{}]}, "mark": {"type": "text", "text": "14.1%", "align": "left", "baseline": "alphabetic", "font": "Open Sans", "fontWeight": "bold", "fontSize": 50, "color": "#ff0000"}, "encoding": {"x": {"datum": 25, "type": "quantitative", "axis": null}, "y": {"datum": 331, "type": "quantitative", "axis": null}}},
{"data": {"values": [{}]}, "mark": {"type": "text", "text": "0.92", "align": "right", "baseline": "alphabetic", "font": "Open Sans", "fontWeight": "bold", "fontSize": 50, "color": "#ff0000"}, "encoding": {"x": {"datum": 592, "type": "quantitative", "axis": null}, "y": {"datum": 331, "type": "quantitative", "axis": null}}},
{"data": {"values": [{}]}, "mark": {"type": "rule", "color": "#ffff00", "strokeWidth": 5, "strokeCap": "round"}, "encoding": {"x": {"datum": -52.1, "type": "quantitative", "axis": null}, "x2": {"datum": -35.3}, "y": {"datum": 185.8, "type": "quantitative", "axis": null}, "y2": {"datum": 149.4}}}
]
},
{
"width": 780, "height": 258,
"layer": [
{"data": {"values": [{}]}, "mark": {"type": "rect", "color": {"gradient": "linear", "x1": 0, "y1": 0, "x2": 0, "y2": 1, "stops": [{"offset": 0, "color": "#3592c5"}, {"offset": 1, "color": "#41a4cd"}]}}, "encoding": {"x": {"datum": -52.1, "type": "quantitative", "axis": null}, "x2": {"datum": -36.13}, "y": {"datum": -10.4, "type": "quantitative", "axis": null}, "y2": {"datum": 196}}},
{"data": {"name": "h6"}, "mark": {"type": "area", "interpolate": "step-after", "color": "#ff00ff"},
 "encoding": {
  "x": {"field": "x", "type": "quantitative", "scale": {"domain": [-52.1, 603.36], "nice": false, "zero": false},
        "axis": {"orient": "bottom", "offset": -13, "title": null, "values": [0,14,28,42,56,70,84,98,112,126,140,154,168,182,196,210,224,238,252,266,280,294,308,322,336,350,364,378,392,406,420,434,448,462,476,490,504,518,532,546,560,574,588], "format": "d", "labelExpr": "datum.value % 70 === 0 && datum.value <= 560 ? datum.label : ''", "tickSize": {"condition": {"test": "datum.value % 70 === 0", "value": -8}, "value": -4}, "labelPadding": 12, "labelBaseline": "top"}},
  "y": {"field": "c", "type": "quantitative", "scale": {"domain": [-10.4, 196], "nice": false, "zero": false},
        "axis": {"orient": "left", "offset": -62, "title": null, "values": [0,20,40,60,80,100,120,140,160,180], "format": "d", "tickSize": -16, "labelPadding": 19}}
 }},
{"data": {"name": "c6"}, "mark": {"type": "rule", "color": "#1a1a1a", "strokeWidth": 1.5}, "encoding": {"x": {"field": "x", "type": "quantitative", "axis": null}, "y": {"datum": 0, "type": "quantitative", "axis": null}, "y2": {"datum": 196}}},
{"data": {"name": "c6"}, "mark": {"type": "rule", "color": "#8a8a8a", "strokeWidth": 2.5},
 "encoding": {
  "x": {"field": "x", "type": "quantitative", "axis": {"orient": "top", "offset": 0, "title": null, "labels": false, "values": [0,14,28,42,56,70,84,98,112,126,140,154,168,182,196,210,224,238,252,266,280,294,308,322,336,350,364,378,392,406,420,434,448,462,476,490,504,518,532,546,560,574,588], "tickSize": {"condition": {"test": "datum.value % 70 === 0", "value": -8}, "value": -4}}},
  "y": {"field": "h", "type": "quantitative", "axis": {"orient": "right", "offset": -4, "title": null, "labels": false, "values": [0,20,40,60,80,100,120,140,160,180], "tickSize": -12}},
  "y2": {"datum": 0}
 }},
{"data": {"name": "c6"}, "mark": {"type": "text", "fontSize": 7, "baseline": "bottom", "font": "DejaVu Sans", "color": "#333333"}, "encoding": {"x": {"field": "x", "type": "quantitative", "axis": null}, "y": {"datum": 196, "type": "quantitative", "axis": null}, "text": {"field": "lab", "type": "nominal"}}},
{"data": {"values": [{}]}, "mark": {"type": "rule", "color": "#000000", "strokeWidth": 2}, "encoding": {"x": {"datum": 0, "type": "quantitative", "axis": null}, "y": {"datum": 0, "type": "quantitative", "axis": null}, "y2": {"datum": 196}}},
{"data": {"values": [{}]}, "mark": {"type": "rule", "color": "#000000", "strokeWidth": 1}, "encoding": {"x": {"datum": 600, "type": "quantitative", "axis": null}, "y": {"datum": 0, "type": "quantitative", "axis": null}, "y2": {"datum": 196}}},
{"data": {"values": [{}]}, "mark": {"type": "rule", "color": "#000000", "strokeWidth": 1}, "encoding": {"x": {"datum": 0, "type": "quantitative", "axis": null}, "x2": {"datum": 600}, "y": {"datum": 196, "type": "quantitative", "axis": null}}},
{"data": {"values": [{}]}, "mark": {"type": "rule", "color": "#000000", "strokeWidth": 2}, "encoding": {"x": {"datum": 0, "type": "quantitative", "axis": null}, "x2": {"datum": 600}, "y": {"datum": 0, "type": "quantitative", "axis": null}}},
{"data": {"values": [{}]}, "mark": {"type": "text", "text": "16.2%", "align": "left", "baseline": "alphabetic", "font": "Open Sans", "fontWeight": "bold", "fontSize": 50, "color": "#ff0000"}, "encoding": {"x": {"datum": 25, "type": "quantitative", "axis": null}, "y": {"datum": 129, "type": "quantitative", "axis": null}}},
{"data": {"values": [{}]}, "mark": {"type": "text", "text": "0.75", "align": "right", "baseline": "alphabetic", "font": "Open Sans", "fontWeight": "bold", "fontSize": 50, "color": "#ff0000"}, "encoding": {"x": {"datum": 588.5, "type": "quantitative", "axis": null}, "y": {"datum": 154, "type": "quantitative", "axis": null}}},
{"data": {"values": [{}]}, "mark": {"type": "rule", "color": "#ffff00", "strokeWidth": 5, "strokeCap": "round"}, "encoding": {"x": {"datum": -52.1, "type": "quantitative", "axis": null}, "x2": {"datum": -22.7}, "y": {"datum": 126.4, "type": "quantitative", "axis": null}, "y2": {"datum": 108.8}}}
]
}
]
}
